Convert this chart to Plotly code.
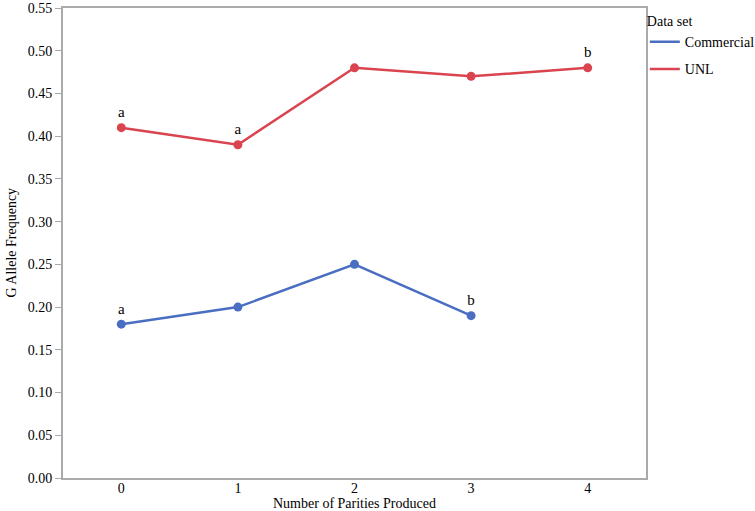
import plotly.graph_objects as go

parities = [0, 1, 2, 3, 4]
unl = [0.41, 0.39, 0.48, 0.47, 0.48]
commercial_x = [0, 1, 2, 3]
commercial = [0.18, 0.20, 0.25, 0.19]
unl_letters = ["a", "a", "", "", "b"]
com_letters = ["a", "", "", "b"]

blue = "#4a6fc2"
red = "#d9444f"
font = "Liberation Serif"

fig = go.Figure()
fig.add_trace(go.Scatter(x=commercial_x, y=commercial, mode="lines+markers+text",
                         text=com_letters, textposition="top center",
                         textfont=dict(size=15, color="black", family=font),
                         line=dict(color=blue, width=2.5), marker=dict(size=9, color=blue),
                         showlegend=False))
fig.add_trace(go.Scatter(x=parities, y=unl, mode="lines+markers+text",
                         text=unl_letters, textposition="top center",
                         textfont=dict(size=15, color="black", family=font),
                         line=dict(color=red, width=2.5), marker=dict(size=9, color=red),
                         showlegend=False))
fig.add_trace(go.Scatter(x=[None], y=[None], mode="lines", name="Commercial",
                         line=dict(color=blue, width=2.5), legendgroup="c"))
fig.add_trace(go.Scatter(x=[None], y=[None], mode="lines", name="UNL",
                         line=dict(color=red, width=2.5), legendgroup="u"))

axis_common = dict(showline=True, linecolor="#aaaaaa", linewidth=2, mirror=True,
                   showgrid=False, zeroline=False,
                   tickfont=dict(size=14, color="black", family=font))
fig.update_xaxes(range=[-0.5, 4.5], tickvals=parities, ticks="", ticklabelstandoff=-4,
                 **axis_common)
fig.update_yaxes(range=[0, 0.55], dtick=0.05, tickformat=".2f", ticks="outside",
                 ticklen=6, tickcolor="#aaaaaa", **axis_common)
fig.add_annotation(text="Number of Parities Produced", xref="paper", yref="paper",
                   x=0.5, y=-0.054, xanchor="center", yanchor="middle", showarrow=False,
                   font=dict(size=14, color="black", family=font))
fig.add_annotation(text="G Allele Frequency", xref="paper", yref="paper",
                   x=-0.09, y=0.5, xanchor="center", yanchor="middle", showarrow=False,
                   textangle=-90, font=dict(size=14, color="black", family=font))
fig.update_layout(
    width=755, height=511,
    margin=dict(l=63, r=109, t=8, b=33, autoexpand=False),
    plot_bgcolor="white", paper_bgcolor="white",
    font=dict(family=font, size=14, color="black"),
    legend=dict(title=dict(text="Data set", font=dict(size=14, family=font, color="black")),
                x=0.998, xanchor="left", y=1.0, yanchor="top", bgcolor="rgba(0,0,0,0)",
                tracegroupgap=6, traceorder="grouped", itemwidth=30,
                font=dict(size=14, family=font, color="black")),
)
fig.write_html("out.html", config={"displayModeBar": False},
               post_script="document.body.style.margin='0';")
